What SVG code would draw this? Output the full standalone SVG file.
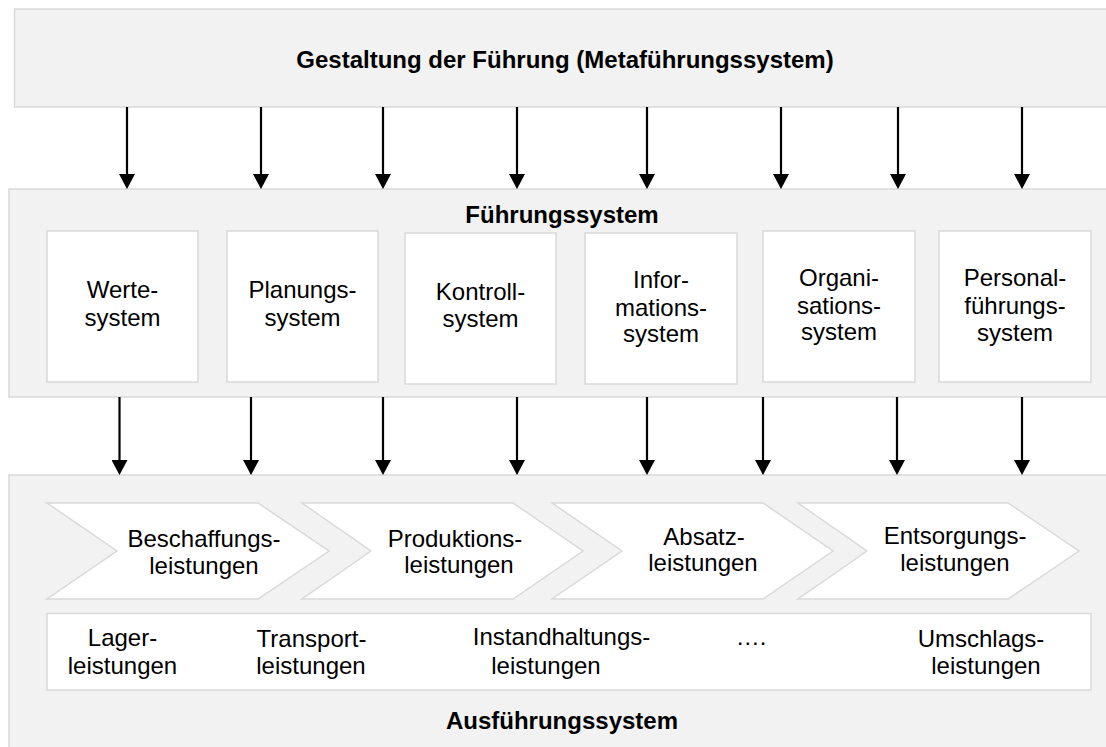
<svg xmlns="http://www.w3.org/2000/svg" width="1106" height="747" viewBox="0 0 1106 747">
<style>
  .bg { fill: #f2f2f2; stroke: #d9d9d9; stroke-width: 1.5; }
  .box { fill: #ffffff; stroke: #d9d9d9; stroke-width: 1.5; }
  .t { font-family: "Liberation Sans", Arial, sans-serif; font-size: 24px; fill: #000; text-anchor: middle; }
  .b { font-weight: bold; }
  .arr { stroke: #000; stroke-width: 2.2; fill: none; marker-end: url(#ah); }
</style>
<defs>
  <marker id="ah" markerUnits="userSpaceOnUse" markerWidth="16" markerHeight="16" viewBox="0 0 16 16" refX="3" refY="8" orient="auto">
    <path d="M0,0 L15,8 L0,16 z" fill="#000"/>
  </marker>
</defs>
<rect width="1106" height="747" fill="#ffffff"/>

<g id="meta">
  <rect class="bg" x="14.5" y="9" width="1110" height="98"/>
  <text class="t b" x="565" y="68">Gestaltung der Führung (Metaführungssystem)</text>
</g>

<g id="fuehrungssystem">
  <rect class="bg" x="9" y="189" width="1110" height="208"/>
  <text class="t b" x="562" y="223">Führungssystem</text>
</g>

<g id="wertesystem">
  <rect class="box" x="47" y="231" width="151" height="151"/>
  <text class="t" x="122.5" y="298">Werte-</text>
  <text class="t" x="122.5" y="326">system</text>
</g>
<g id="planungssystem">
  <rect class="box" x="227" y="231" width="151" height="151"/>
  <text class="t" x="302.5" y="298">Planungs-</text>
  <text class="t" x="302.5" y="326">system</text>
</g>
<g id="kontrollsystem">
  <rect class="box" x="405" y="233" width="151" height="151"/>
  <text class="t" x="480.5" y="300">Kontroll-</text>
  <text class="t" x="480.5" y="327">system</text>
</g>
<g id="informationssystem">
  <rect class="box" x="585" y="233" width="152" height="151"/>
  <text class="t" x="661" y="288">Infor-</text>
  <text class="t" x="661" y="316">mations-</text>
  <text class="t" x="661" y="342">system</text>
</g>
<g id="organisationssystem">
  <rect class="box" x="763" y="231" width="152" height="151"/>
  <text class="t" x="839" y="286">Organi-</text>
  <text class="t" x="839" y="313.5">sations-</text>
  <text class="t" x="839" y="340">system</text>
</g>
<g id="personalfuehrungssystem">
  <rect class="box" x="939" y="231" width="152" height="151"/>
  <text class="t" x="1015" y="286">Personal-</text>
  <text class="t" x="1015" y="313.5">führungs-</text>
  <text class="t" x="1015" y="340.5">system</text>
</g>

<g id="ausfuehrungssystem">
  <rect class="bg" x="9" y="475" width="1110" height="290"/>
  <text class="t b" x="562" y="729">Ausführungssystem</text>
</g>

<g id="beschaffung">
  <polygon class="box" points="47,503 258,503 329,551 258,599 47,599 117,551"/>
  <text class="t" x="204" y="547">Beschaffungs-</text>
  <text class="t" x="204" y="574">leistungen</text>
</g>
<g id="produktion">
  <polygon class="box" points="302,503 513,503 583,551 513,599 302,599 371,551"/>
  <text class="t" x="455" y="546.5">Produktions-</text>
  <text class="t" x="459" y="573">leistungen</text>
</g>
<g id="absatz">
  <polygon class="box" points="552,503 763,503 833,551 763,599 552,599 622,551"/>
  <text class="t" x="704" y="544.5">Absatz-</text>
  <text class="t" x="703" y="571">leistungen</text>
</g>
<g id="entsorgung">
  <polygon class="box" points="798,503 1008,503 1079,551 1008,599 798,599 867,551"/>
  <text class="t" x="955" y="544">Entsorgungs-</text>
  <text class="t" x="955" y="571">leistungen</text>
</g>

<g id="querschnitt">
  <rect class="box" x="47" y="613.5" width="1044" height="76.5"/>
  <text class="t" x="122.5" y="646">Lager-</text>
  <text class="t" x="122.5" y="673.5">leistungen</text>
  <text class="t" x="311.5" y="646.5">Transport-</text>
  <text class="t" x="311" y="673.5">leistungen</text>
  <text class="t" x="561.5" y="645">Instandhaltungs-</text>
  <text class="t" x="546" y="673.5">leistungen</text>
  <text class="t" x="751" y="645">….</text>
  <text class="t" x="981" y="646.5">Umschlags-</text>
  <text class="t" x="986" y="673.5">leistungen</text>
</g>

<g id="connectors">
  <line class="arr" x1="127" y1="107" x2="127" y2="177"/>
  <line class="arr" x1="261" y1="107" x2="261" y2="177"/>
  <line class="arr" x1="383" y1="107" x2="383" y2="177"/>
  <line class="arr" x1="517" y1="107" x2="517" y2="177"/>
  <line class="arr" x1="647" y1="107" x2="647" y2="177"/>
  <line class="arr" x1="781" y1="107" x2="781" y2="177"/>
  <line class="arr" x1="898" y1="107" x2="898" y2="177"/>
  <line class="arr" x1="1022" y1="107" x2="1022" y2="177"/>

  <line class="arr" x1="119.5" y1="397" x2="119.5" y2="463"/>
  <line class="arr" x1="251" y1="397" x2="251" y2="463"/>
  <line class="arr" x1="383" y1="397" x2="383" y2="463"/>
  <line class="arr" x1="517" y1="397" x2="517" y2="463"/>
  <line class="arr" x1="647" y1="397" x2="647" y2="463"/>
  <line class="arr" x1="763" y1="397" x2="763" y2="463"/>
  <line class="arr" x1="897" y1="397" x2="897" y2="463"/>
  <line class="arr" x1="1022" y1="397" x2="1022" y2="463"/>
</g>
</svg>
